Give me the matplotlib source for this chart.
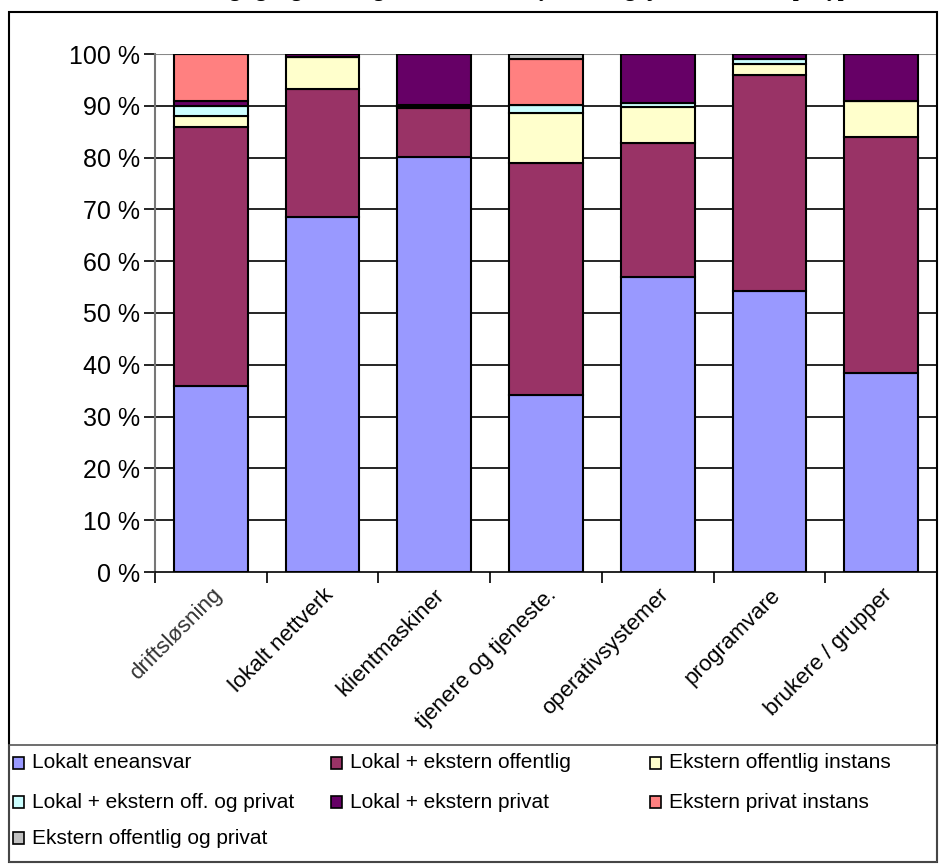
import matplotlib
matplotlib.use("Agg")
import matplotlib.pyplot as plt
from matplotlib.patches import Rectangle
import numpy as np

categories = ["driftsløsning", "lokalt nettverk", "klientmaskiner", "tjenere og tjeneste.",
              "operativsystemer", "programvare", "brukere / grupper"]
series_names = ["Lokalt eneansvar", "Lokal + ekstern offentlig", "Ekstern offentlig instans",
                "Lokal + ekstern off. og privat", "Lokal + ekstern privat", "Ekstern privat instans",
                "Ekstern offentlig og privat"]
lokalt_eneansvar = [36.0, 68.6, 80.1, 34.2, 57.0, 54.2, 38.5]
lokal_ekstern_off = [50.0, 24.6, 9.4, 44.8, 25.9, 41.8, 45.5]
ekstern_off = [2.0, 6.3, 0.3, 9.7, 6.9, 2.0, 7.0]
lokal_ekstern_off_priv = [2.0, 0.0, 0.3, 1.5, 0.8, 1.0, 0.0]
lokal_ekstern_priv = [1.0, 0.5, 9.9, 0.0, 9.4, 1.0, 9.0]
ekstern_priv = [9.0, 0.0, 0.0, 8.8, 0.0, 0.0, 0.0]
ekstern_off_priv = [0.0, 0.0, 0.0, 1.0, 0.0, 0.0, 0.0]
yticklabels = ["0 %", "10 %", "20 %", "30 %", "40 %", "50 %", "60 %", "70 %", "80 %", "90 %", "100 %"]
title = "Ansvarsfordeling og organisering av drift av IKT-systemer og tjenester, fordelt på type"

colors = ["#9999FF", "#993366", "#FFFFCC", "#CCFFFF", "#660066", "#FF8080", "#C0C0C0"]
series = [lokalt_eneansvar, lokal_ekstern_off, ekstern_off, lokal_ekstern_off_priv,
          lokal_ekstern_priv, ekstern_priv, ekstern_off_priv]

W, H = 944, 866
fig = plt.figure(figsize=(W / 100, H / 100), dpi=100)
plt.rcParams['font.family'] = ['Liberation Sans', 'DejaVu Sans']

def fx(x): return x / W
def fy(y): return 1 - y / H

# outer border and legend box
fig.patches.append(Rectangle((fx(9), fy(862)), fx(937) - fx(9), fy(12) - fy(862),
                             transform=fig.transFigure, fill=False, ec="black", lw=1.5))
fig.patches.append(Rectangle((fx(9), fy(862)), fx(937) - fx(9), fy(745) - fy(862),
                             transform=fig.transFigure, fill=False, ec="#555555", lw=1.2))

# title sits above the top edge, only its descenders show (as in the reference)
fig.text(0.5, fy(-4), title, ha="center", va="baseline", fontsize=15,
         fontweight="bold", family=["Liberation Serif", "DejaVu Serif"])

ax = fig.add_axes([fx(155), fy(572), fx(937) - fx(155), fy(54) - fy(572)])
x = np.arange(len(categories))
bottom = np.zeros(len(categories))
for vals, col in zip(series, colors):
    v = np.array(vals)
    ax.bar(x, v, width=0.66, bottom=bottom, color=col, edgecolor="black", linewidth=1.5, zorder=3)
    bottom += v

ax.set_xlim(-0.5, len(categories) - 0.5)
ax.set_ylim(0, 100)
ax.set_yticks(np.arange(0, 101, 10))
ax.set_yticklabels(yticklabels, fontsize=18)
for yv in range(10, 100, 10):
    ax.axhline(yv, color="black", lw=1.2, zorder=1)
ax.axhline(100, color="#888888", lw=1.5, zorder=1)
ax.tick_params(axis="y", length=8, width=1.2, pad=3)
ax.set_xticks(x)
ax.set_xticklabels(categories, rotation=45, ha="right", rotation_mode="anchor", fontsize=16)
ax.tick_params(axis="x", length=0, pad=9)
ax.set_xticks(np.arange(-0.5, len(categories), 1), minor=True)
ax.tick_params(axis="x", which="minor", length=8, width=1.2)
for s in ["top", "right"]:
    ax.spines[s].set_visible(False)
ax.spines["left"].set_color("#777777")
ax.spines["left"].set_linewidth(1.5)
ax.spines["bottom"].set_color("black")
ax.spines["bottom"].set_linewidth(1.2)
ax.get_xticklabels()[0].set_color("#333333")

# legend
col_x = [13, 331, 650]
row_y = [763, 802, 838]
for i, (name, col) in enumerate(zip(series_names, colors)):
    r, c = divmod(i, 3)
    mx, my = col_x[c], row_y[r]
    fig.patches.append(Rectangle((fx(mx), fy(my + 6)), fx(11), 12 / H, transform=fig.transFigure,
                                 fc=col, ec="black", lw=1.2))
    fig.text(fx(mx + 19), fy(my), name, ha="left", va="center", fontsize=15)

fig.savefig("out.png", dpi=100)
